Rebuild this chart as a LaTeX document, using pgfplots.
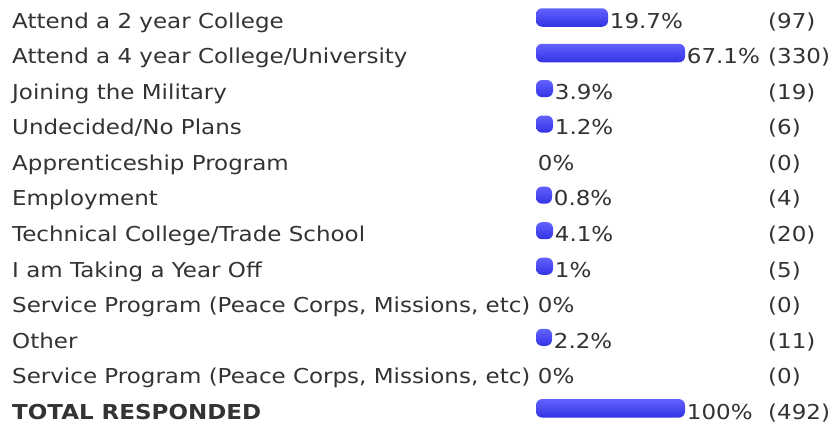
\documentclass[border=0pt]{standalone}
\usepackage{pgfplots}
\usepackage{pgfplotstable}
\usepackage{fontspec}
\setmainfont{DejaVu Sans}[FakeStretch=1.12]
\pgfplotsset{compat=1.18}
\definecolor{txt}{RGB}{51,51,51}
\definecolor{bartop}{RGB}{98,98,255}
\definecolor{barbot}{RGB}{50,50,228}
% row: row index; len: drawn bar length (px); pct: percent; cnt: responses
\pgfplotstableread{
row len pct cnt
0 72 19.7 97
1 149 67.1 330
2 17 3.9 19
3 17 1.2 6
4 0 0 0
5 16 0.8 4
6 17 4.1 20
7 17 1 5
8 0 0 0
9 16 2.2 11
10 0 0 0
11 149 100 492
}\datatable
\begin{document}
\begin{tikzpicture}[font=\fontsize{20.6}{24}\selectfont, text=txt]
\begin{axis}[
  x=1bp, y=35.53bp, y dir=reverse,
  xmin=-536, xmax=296, ymin=-0.493, ymax=11.45,
  axis line style={draw=none}, tick style={draw=none},
  major tick length=0pt,
  xtick=\empty, ytick={0,...,11},
  yticklabels={Attend a 2 year College,
    Attend a 4 year College/University,
    Joining the Military,
    Undecided/No Plans,
    Apprenticeship Program,
    Employment,
    Technical College/Trade School,
    I am Taking a Year Off,
    {Service Program (Peace Corps, Missions, etc)},
    Other,
    {Service Program (Peace Corps, Missions, etc)},
    \textbf{TOTAL RESPONDED}},
  yticklabel style={anchor=base west, inner sep=0pt, xshift=12bp, yshift=-10.8bp, text=txt,
    font=\fontsize{20.6}{24}\selectfont},
  clip=false,
  /pgf/number format/assume math mode=true,
]
% bars
\addplot[draw=none, top color=bartop, bottom color=barbot, rounded corners=6bp] coordinates {(0,-0.26) (72,-0.26) (72,0.26) (0,0.26)} --cycle;
\addplot[draw=none, top color=bartop, bottom color=barbot, rounded corners=6bp] coordinates {(0,0.74) (149,0.74) (149,1.26) (0,1.26)} --cycle;
\addplot[draw=none, top color=bartop, bottom color=barbot, rounded corners=6bp] coordinates {(0,1.76) (17,1.76) (17,2.24) (0,2.24)} --cycle;
\addplot[draw=none, top color=bartop, bottom color=barbot, rounded corners=6bp] coordinates {(0,2.76) (17,2.76) (17,3.24) (0,3.24)} --cycle;
\addplot[draw=none, top color=bartop, bottom color=barbot, rounded corners=6bp] coordinates {(0,4.76) (16,4.76) (16,5.24) (0,5.24)} --cycle;
\addplot[draw=none, top color=bartop, bottom color=barbot, rounded corners=6bp] coordinates {(0,5.76) (17,5.76) (17,6.24) (0,6.24)} --cycle;
\addplot[draw=none, top color=bartop, bottom color=barbot, rounded corners=6bp] coordinates {(0,6.76) (17,6.76) (17,7.24) (0,7.24)} --cycle;
\addplot[draw=none, top color=bartop, bottom color=barbot, rounded corners=6bp] coordinates {(0,8.76) (16,8.76) (16,9.24) (0,9.24)} --cycle;
\addplot[draw=none, top color=bartop, bottom color=barbot, rounded corners=6bp] coordinates {(0,10.74) (149,10.74) (149,11.26) (0,11.26)} --cycle;
% percent labels
\addplot[only marks, mark=*, mark size=0pt, mark options={draw=none, fill=none},
  point meta=explicit,
  nodes near coords={\pgfmathprintnumber{\pgfplotspointmeta}\%},
  every node near coord/.style={anchor=base west, inner sep=0pt, xshift=1.7bp, yshift=-10.8bp, text=txt,
    font=\fontsize{20.6}{24}\selectfont}]
  table[x=len, y=row, meta=pct] {\datatable};
% count labels
\addplot[only marks, mark=*, mark size=0pt, mark options={draw=none, fill=none},
  point meta=explicit,
  nodes near coords={(\pgfmathprintnumber{\pgfplotspointmeta})},
  every node near coord/.style={anchor=base west, inner sep=0pt, yshift=-10.8bp, text=txt,
    font=\fontsize{20.6}{24}\selectfont}]
  table[x expr=232, y=row, meta=cnt] {\datatable};
\end{axis}
\end{tikzpicture}
\end{document}
